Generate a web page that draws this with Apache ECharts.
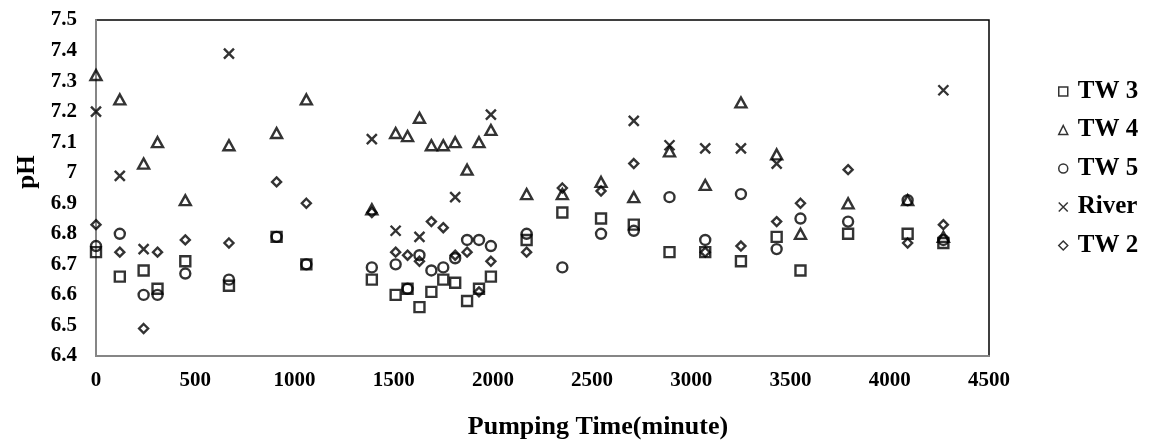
<!DOCTYPE html>
<html>
<head>
<meta charset="utf-8">
<script src="https://cdn.jsdelivr.net/npm/echarts@6/dist/echarts.min.js"></script>
<style>
  html, body { margin: 0; padding: 0; background: #fff; }
  #chart { width: 1152px; height: 440px; }
</style>
</head>
<body>
<div id="chart"></div>
<script>
// pumping times (minutes) shared by all wells
const times = [0, 120, 240, 310, 450, 670, 910, 1060, 1390, 1510, 1570, 1630, 1690, 1750, 1810,
  1870, 1930, 1990, 2170, 2350, 2545, 2710, 2890, 3070, 3250, 3430, 3550, 3790, 4090, 4270];

const tw3 = [6.74, 6.66, 6.68, 6.62, 6.71, 6.63, 6.79, 6.70, 6.65, 6.60, 6.62, 6.56, 6.61, 6.65, 6.64,
  6.58, 6.62, 6.66, 6.78, 6.87, 6.85, 6.83, 6.74, 6.74, 6.71, 6.79, 6.68, 6.80, 6.80, 6.77];
const tw4 = [7.32, 7.24, 7.03, 7.10, 6.91, 7.09, 7.13, 7.24, 6.88, 7.13, 7.12, 7.18, 7.09, 7.09, 7.10,
  7.01, 7.10, 7.14, 6.93, 6.93, 6.97, 6.92, 7.07, 6.96, 7.23, 7.06, 6.80, 6.90, 6.91, 6.79];
const tw5 = [6.76, 6.80, 6.60, 6.60, 6.67, 6.65, 6.79, 6.70, 6.69, 6.70, 6.62, 6.73, 6.68, 6.69, 6.72,
  6.78, 6.78, 6.76, 6.80, 6.69, 6.80, 6.81, 6.92, 6.78, 6.93, 6.75, 6.85, 6.84, 6.91, 6.78];
const river = [7.20, 6.99, 6.75, null, null, 7.39, null, null, 7.11, 6.81, null, 6.79, null, null, 6.92,
  null, null, 7.19, null, null, null, 7.17, 7.09, 7.08, 7.08, 7.03, null, null, null, 7.27];
const tw2 = [6.83, 6.74, 6.49, 6.74, 6.78, 6.77, 6.97, 6.90, 6.87, 6.74, 6.73, 6.71, 6.84, 6.82, 6.73,
  6.74, 6.61, 6.71, 6.74, 6.95, 6.94, 7.03, null, 6.74, 6.76, 6.84, 6.90, 7.01, 6.77, 6.83];

const yTicks = [6.4, 6.5, 6.6, 6.7, 6.8, 6.9, 7, 7.1, 7.2, 7.3, 7.4, 7.5];
const xTicks = [0, 500, 1000, 1500, 2000, 2500, 3000, 3500, 4000, 4500];

const crossPath = 'path://M0,0L10,10M10,0L0,10';
const font = '"Liberation Serif", "Times New Roman", serif';

const pairs = (vals) => times.map((t, i) => [t, vals[i]]).filter((p) => p[1] !== null);

const markerStyle = {
  color: 'transparent',
  borderColor: '#000',
  borderWidth: 2.4
};

const makeSeries = (name, vals, symbol, size) => ({
  name,
  type: 'scatter',
  data: pairs(vals),
  symbol,
  symbolSize: size,
  itemStyle: markerStyle,
  emphasis: { disabled: true }
});

const chart = echarts.init(document.getElementById('chart'), null, { renderer: 'canvas' });

const option = {
  animation: false,
  textStyle: { fontFamily: font },
  grid: {
    left: 96,
    top: 20,
    right: 163,
    bottom: 84,
    show: true,
    borderColor: '#000',
    borderWidth: 1.5,
    backgroundColor: 'transparent'
  },
  title: {
    text: 'Pumping Time(minute)',
    left: 593,
    top: 409,
    textAlign: 'center',
    textStyle: { fontFamily: font, fontWeight: 'bold', fontSize: 26, color: '#000' }
  },
  graphic: [
    {
      type: 'text',
      x: 28,
      y: 172,
      rotation: Math.PI / 2,
      style: {
        text: 'pH',
        font: 'bold 25px ' + font,
        fill: '#000',
        textAlign: 'center',
        textVerticalAlign: 'middle'
      }
    }
  ],
  legend: {
    orient: 'vertical',
    left: 1053,
    top: 74,
    itemWidth: 9,
    itemHeight: 9,
    itemGap: 13.5,
    data: [
      { name: 'TW 3', icon: 'rect' },
      { name: 'TW 4', icon: 'triangle' },
      { name: 'TW 5', icon: 'circle' },
      { name: 'River', icon: crossPath },
      { name: 'TW 2', icon: 'diamond' }
    ],
    itemStyle: { borderWidth: 1.5 },
    textStyle: {
      fontFamily: font,
      fontWeight: 'bold',
      fontSize: 25,
      lineHeight: 25,
      color: '#000',
      padding: [0, 0, 0, 5]
    }
  },
  xAxis: {
    type: 'value',
    min: xTicks[0],
    max: xTicks[xTicks.length - 1],
    interval: 500,
    axisLine: { show: true, lineStyle: { color: '#868686', width: 2 } },
    axisTick: { show: false },
    splitLine: { show: false },
    axisLabel: {
      margin: 14,
      fontFamily: font,
      fontWeight: 'bold',
      fontSize: 21,
      color: '#000',
      formatter: (v) => String(v)
    }
  },
  yAxis: {
    type: 'value',
    min: yTicks[0],
    max: yTicks[yTicks.length - 1],
    interval: 0.1,
    axisLine: { show: true, lineStyle: { color: '#868686', width: 2 } },
    axisTick: { show: false },
    splitLine: { show: false },
    axisLabel: {
      margin: 19,
      fontFamily: font,
      fontWeight: 'bold',
      fontSize: 21,
      color: '#000',
      formatter: (v) => String(Number(v.toFixed(1)))
    }
  },
  series: [
    makeSeries('TW 3', tw3, 'rect', 10),
    makeSeries('TW 4', tw4, 'triangle', [11, 10]),
    makeSeries('TW 5', tw5, 'circle', 10),
    makeSeries('River', river, crossPath, 10),
    makeSeries('TW 2', tw2, 'diamond', 9)
  ]
};

chart.setOption(option);
window.addEventListener('resize', () => chart.resize());
</script>
</body>
</html>
